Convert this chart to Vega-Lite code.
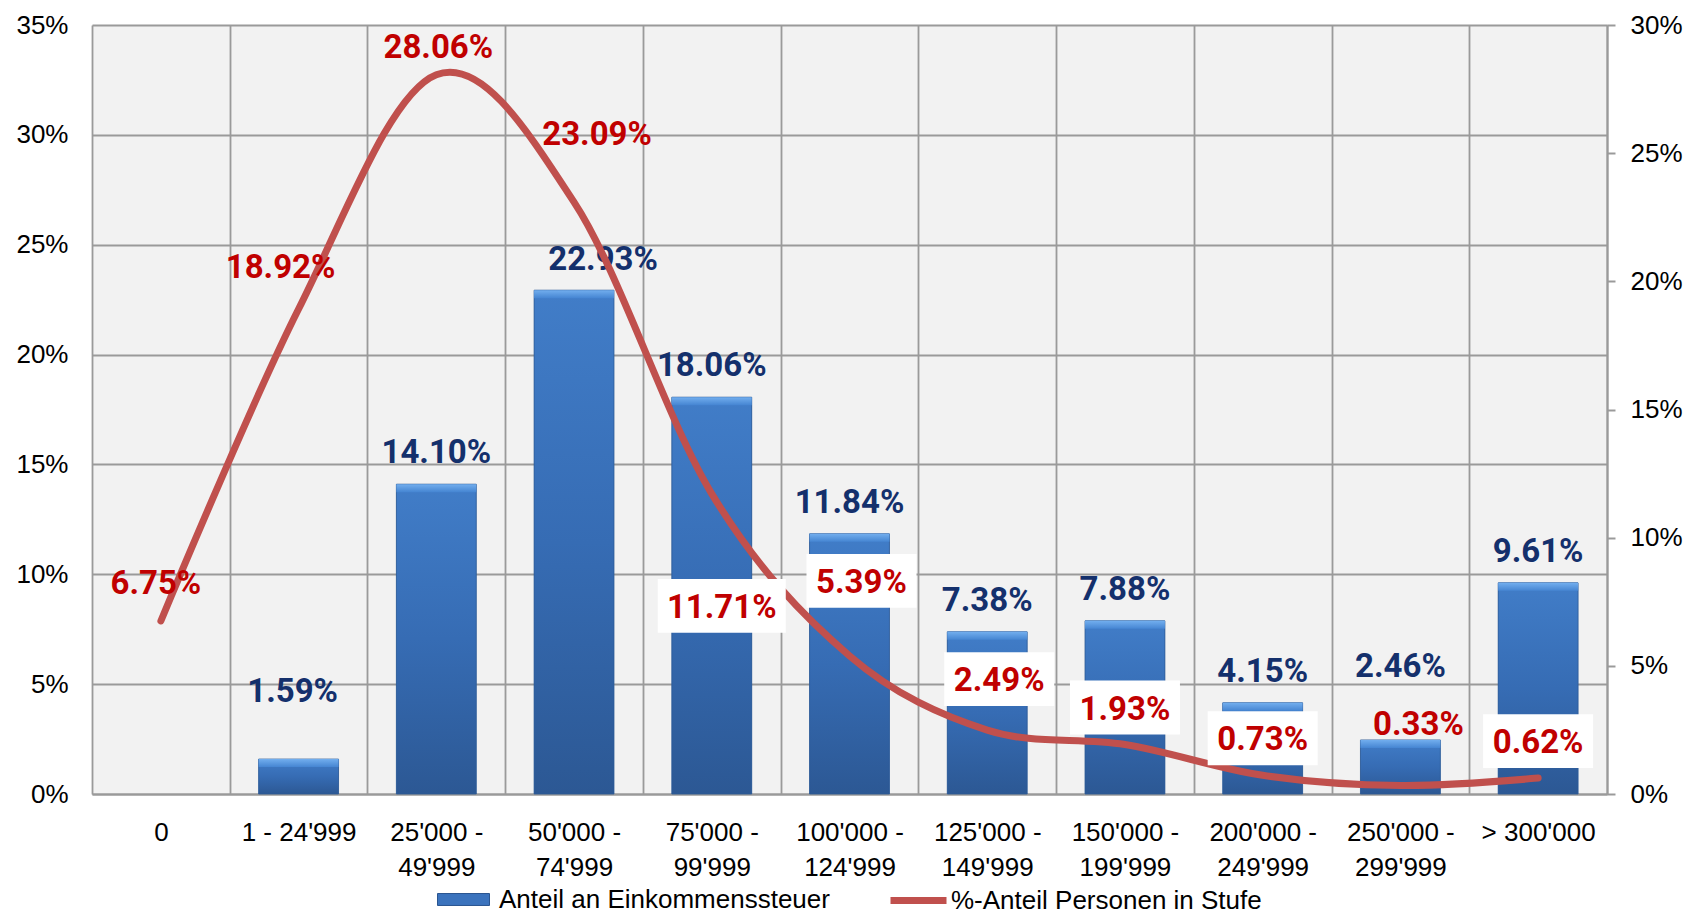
{
  "$schema": "https://vega.github.io/schema/vega-lite/v6.json",
  "width": 1515,
  "height": 769,
  "autosize": {"type": "none"},
  "padding": {"left": 92, "top": 25, "right": 81, "bottom": 121},
  "background": "#ffffff",
  "config": {
    "font": "Liberation Sans",
    "view": {"fill": "#f2f2f2", "stroke": null},
    "axis": {"labelFont": "Liberation Sans", "labelFontSize": 26, "labelColor": "#000000", "title": null},
    "legend": {"labelFont": "Liberation Sans", "labelFontSize": 26, "labelColor": "#000000", "padding": 0, "labelLimit": 600}
  },
  "data": {
    "values": [
      {"cat": "0", "tax": null, "persons": 0.0675},
      {"cat": "1 - 24'999", "tax": 0.0159, "persons": 0.1892},
      {"cat": "25'000 - 49'999", "tax": 0.1410, "persons": 0.2806},
      {"cat": "50'000 - 74'999", "tax": 0.2293, "persons": 0.2309},
      {"cat": "75'000 - 99'999", "tax": 0.1806, "persons": 0.1171},
      {"cat": "100'000 - 124'999", "tax": 0.1184, "persons": 0.0539},
      {"cat": "125'000 - 149'999", "tax": 0.0738, "persons": 0.0249},
      {"cat": "150'000 - 199'999", "tax": 0.0788, "persons": 0.0193},
      {"cat": "200'000 - 249'999", "tax": 0.0415, "persons": 0.0073},
      {"cat": "250'000 - 299'999", "tax": 0.0246, "persons": 0.0033},
      {"cat": "> 300'000", "tax": 0.0961, "persons": 0.0062}
    ]
  },
  "encoding": {
    "x": {
      "field": "cat",
      "type": "nominal",
      "sort": null,
      "scale": {
        "type": "band",
        "paddingInner": 0,
        "paddingOuter": 0,
        "domain": ["0", "1 - 24'999", "25'000 - 49'999", "50'000 - 74'999", "75'000 - 99'999", "100'000 - 124'999", "125'000 - 149'999", "150'000 - 199'999", "200'000 - 249'999", "250'000 - 299'999", "> 300'000"]
      },
      "axis": {
        "title": null,
        "labelAngle": 0,
        "ticks": false,
        "tickSize": 0,
        "tickBand": "extent",
        "grid": true,
        "gridColor": "#9a9a9a",
        "gridWidth": 1.8,
        "domain": true,
        "domainColor": "#9a9a9a",
        "domainWidth": 2,
        "labelPadding": 25,
        "labelLineHeight": 35,
        "labelFontSize": 26,
        "labelLimit": 400,
        "labelExpr": "length(datum.label) > 11 ? [slice(datum.label, 0, indexof(datum.label, ' - ') + 2), slice(datum.label, indexof(datum.label, ' - ') + 3)] : datum.label"
      }
    }
  },
  "layer": [
    {
      "encoding": {
        "y": {
          "field": "tax",
          "type": "quantitative",
          "scale": {"domain": [0, 0.35], "nice": false, "zero": true},
          "axis": {
            "orient": "left",
            "title": null,
            "values": [0, 0.05, 0.1, 0.15, 0.2, 0.25, 0.3, 0.35],
            "format": ".0%",
            "grid": true,
            "gridColor": "#9a9a9a",
            "gridWidth": 1.8,
            "domain": false,
            "ticks": false,
            "tickSize": 0,
            "labelPadding": 24,
            "labelFontSize": 26
          }
        }
      },
      "layer": [
        {
          "mark": {"type": "bar", "width": {"band": 0.58}},
          "encoding": {
            "fill": {
              "datum": "Anteil an Einkommenssteuer",
              "type": "nominal",
              "scale": {"range": ["#3b73bd"]},
              "legend": {
                "orient": "none",
                "legendX": 345,
                "legendY": 848,
                "title": null,
                "symbolType": "M-1,-0.23L1,-0.23L1,0.23L-1,0.23Z",
                "symbolSize": 2704,
                "symbolStrokeColor": "#2a5590",
                "symbolStrokeWidth": 1,
                "labelFontSize": 26,
                "labelOffset": 9,
                "padding": 0
              }
            }
          }
        },
        {
          "mark": {
            "type": "bar",
            "width": {"band": 0.58},
            "stroke": "#2d5a96",
            "strokeWidth": 0.8,
            "fill": {
              "gradient": "linear",
              "x1": 0, "y1": 0, "x2": 0, "y2": 1,
              "stops": [
                {"offset": 0, "color": "#417dc8"},
                {"offset": 0.5, "color": "#366cb4"},
                {"offset": 1, "color": "#2c5894"}
              ]
            }
          }
        },
        {
          "mark": {
            "type": "bar",
            "width": {"band": 0.58},
            "y2Offset": 8,
            "fill": {
              "gradient": "linear",
              "x1": 0, "y1": 0, "x2": 0, "y2": 1,
              "stops": [
                {"offset": 0, "color": "#72aeee"},
                {"offset": 1, "color": "#4585d2"}
              ]
            }
          },
          "encoding": {"y2": {"field": "tax"}}
        },
        {
          "transform": [{"filter": "datum.tax != null && indexof([0.0159, 0.2293, 0.0246], datum.tax) < 0"}],
          "mark": {"type": "text", "font": "Roboto", "fontWeight": "bold", "fontSize": 33, "color": "#14306c", "align": "center", "baseline": "middle", "yOffset": -31},
          "encoding": {"text": {"field": "tax", "format": ".2%"}}
        },
        {
          "transform": [{"filter": "datum.tax === 0.0159"}],
          "mark": {"type": "text", "font": "Roboto", "fontWeight": "bold", "fontSize": 33, "color": "#14306c", "align": "center", "baseline": "middle", "xOffset": -6, "yOffset": -67},
          "encoding": {"text": {"field": "tax", "format": ".2%"}}
        },
        {
          "transform": [{"filter": "datum.tax === 0.2293"}],
          "mark": {"type": "text", "font": "Roboto", "fontWeight": "bold", "fontSize": 33, "color": "#14306c", "align": "center", "baseline": "middle", "xOffset": 29, "yOffset": -30},
          "encoding": {"text": {"field": "tax", "format": ".2%"}}
        },
        {
          "transform": [{"filter": "datum.tax === 0.0246"}],
          "mark": {"type": "text", "font": "Roboto", "fontWeight": "bold", "fontSize": 33, "color": "#14306c", "align": "center", "baseline": "middle", "yOffset": -73},
          "encoding": {"text": {"field": "tax", "format": ".2%"}}
        }
      ]
    },
    {
      "encoding": {
        "y": {
          "field": "persons",
          "type": "quantitative",
          "scale": {"domain": [0, 0.3], "nice": false, "zero": true},
          "axis": {
            "orient": "right",
            "title": null,
            "values": [0, 0.05, 0.1, 0.15, 0.2, 0.25, 0.3],
            "format": ".0%",
            "grid": false,
            "domain": true,
            "domainColor": "#9a9a9a",
            "domainWidth": 2,
            "ticks": true,
            "tickSize": 8,
            "tickColor": "#9a9a9a",
            "tickWidth": 2,
            "labelPadding": 15,
            "labelFontSize": 26
          }
        }
      },
      "layer": [
        {
          "mark": {"type": "line", "interpolate": "cardinal", "strokeWidth": 7, "strokeCap": "round"},
          "encoding": {
            "stroke": {
              "datum": "%-Anteil Personen in Stufe",
              "type": "nominal",
              "scale": {"range": ["#c0504d"]},
              "legend": {
                "orient": "none",
                "legendX": 795,
                "legendY": 844,
                "title": null,
                "symbolType": "stroke",
                "symbolSize": 3136,
                "symbolStrokeWidth": 7,
                "labelFontSize": 26,
                "labelOffset": 1,
                "padding": 0
              }
            }
          }
        },
        {
          "transform": [{"filter": "datum.persons === 0.0675"}],
          "mark": {"type": "text", "font": "Roboto", "fontWeight": "bold", "fontSize": 33, "color": "#c00000", "align": "center", "baseline": "middle", "xOffset": -5, "yOffset": -37},
          "encoding": {"text": {"field": "persons", "format": ".2%"}}
        },
        {
          "transform": [{"filter": "datum.persons === 0.1892"}],
          "mark": {"type": "text", "font": "Roboto", "fontWeight": "bold", "fontSize": 33, "color": "#c00000", "align": "center", "baseline": "middle", "xOffset": -18, "yOffset": -41},
          "encoding": {"text": {"field": "persons", "format": ".2%"}}
        },
        {
          "transform": [{"filter": "datum.persons === 0.2806"}],
          "mark": {"type": "text", "font": "Roboto", "fontWeight": "bold", "fontSize": 33, "color": "#c00000", "align": "center", "baseline": "middle", "xOffset": 2, "yOffset": -27},
          "encoding": {"text": {"field": "persons", "format": ".2%"}}
        },
        {
          "transform": [{"filter": "datum.persons === 0.2309"}],
          "mark": {"type": "text", "font": "Roboto", "fontWeight": "bold", "fontSize": 33, "color": "#c00000", "align": "center", "baseline": "middle", "xOffset": 23, "yOffset": -67},
          "encoding": {"text": {"field": "persons", "format": ".2%"}}
        },
        {
          "transform": [{"filter": "datum.persons === 0.0033"}],
          "mark": {"type": "text", "font": "Roboto", "fontWeight": "bold", "fontSize": 33, "color": "#c00000", "align": "center", "baseline": "middle", "xOffset": 18, "yOffset": -61},
          "encoding": {"text": {"field": "persons", "format": ".2%"}}
        },
        {
          "transform": [{"filter": "datum.persons === 0.1171"}],
          "layer": [
            {"mark": {"type": "point", "shape": "M-1,-0.42L1,-0.42L1,0.42L-1,0.42Z", "size": 16384, "filled": true, "fill": "#ffffff", "opacity": 1, "strokeWidth": 0, "xOffset": 10, "yOffset": 112}},
            {"mark": {"type": "text", "font": "Roboto", "fontWeight": "bold", "fontSize": 33, "color": "#c00000", "align": "center", "baseline": "middle", "xOffset": 10, "yOffset": 114},
             "encoding": {"text": {"field": "persons", "format": ".2%"}}}
          ]
        },
        {
          "transform": [{"filter": "datum.persons === 0.0539"}],
          "layer": [
            {"mark": {"type": "point", "shape": "M-1,-0.49L1,-0.49L1,0.49L-1,0.49Z", "size": 12100, "filled": true, "fill": "#ffffff", "opacity": 1, "strokeWidth": 0, "xOffset": 12, "yOffset": -75}},
            {"mark": {"type": "text", "font": "Roboto", "fontWeight": "bold", "fontSize": 33, "color": "#c00000", "align": "center", "baseline": "middle", "xOffset": 12, "yOffset": -73},
             "encoding": {"text": {"field": "persons", "format": ".2%"}}}
          ]
        },
        {
          "transform": [{"filter": "datum.persons === 0.0249"}],
          "layer": [
            {"mark": {"type": "point", "shape": "M-1,-0.49L1,-0.49L1,0.49L-1,0.49Z", "size": 12100, "filled": true, "fill": "#ffffff", "opacity": 1, "strokeWidth": 0, "xOffset": 12, "yOffset": -51}},
            {"mark": {"type": "text", "font": "Roboto", "fontWeight": "bold", "fontSize": 33, "color": "#c00000", "align": "center", "baseline": "middle", "xOffset": 12, "yOffset": -49},
             "encoding": {"text": {"field": "persons", "format": ".2%"}}}
          ]
        },
        {
          "transform": [{"filter": "indexof([0.0193, 0.0073, 0.0062], datum.persons) >= 0"}],
          "layer": [
            {"mark": {"type": "point", "shape": "M-1,-0.49L1,-0.49L1,0.49L-1,0.49Z", "size": 12100, "filled": true, "fill": "#ffffff", "opacity": 1, "strokeWidth": 0, "yOffset": -37}},
            {"mark": {"type": "text", "font": "Roboto", "fontWeight": "bold", "fontSize": 33, "color": "#c00000", "align": "center", "baseline": "middle", "yOffset": -35},
             "encoding": {"text": {"field": "persons", "format": ".2%"}}}
          ]
        }
      ]
    }
  ],
  "resolve": {"scale": {"y": "independent"}}
}
